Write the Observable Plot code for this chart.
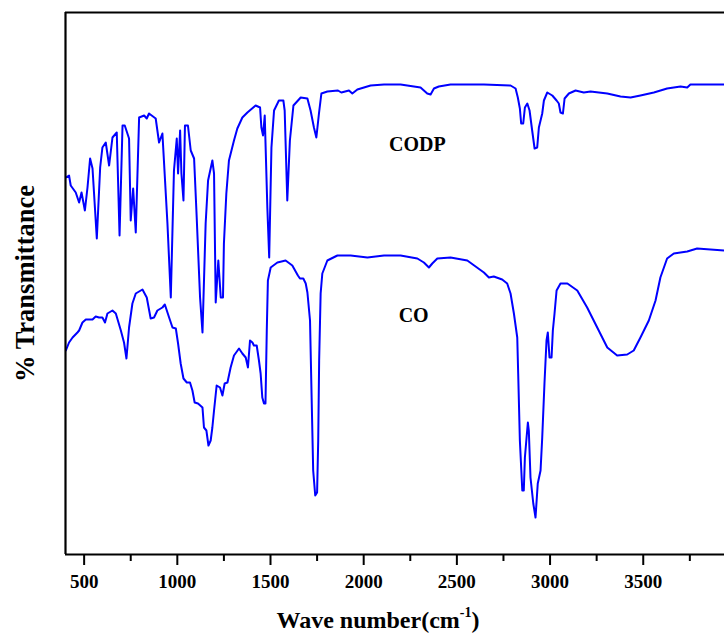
<!DOCTYPE html>
<html>
<head>
<meta charset="utf-8">
<script src="https://cdn.jsdelivr.net/npm/d3@7"></script>
<script src="https://cdn.jsdelivr.net/npm/@observablehq/plot@0.6"></script>
<style>
  html, body { margin: 0; padding: 0; background: #fff; overflow: hidden; }
  #chart svg text { font-weight: bold; font-family: 'Liberation Serif', 'Times New Roman', serif !important; }
</style>
</head>
<body>
<div id="chart"></div>
<script>
// CODP spectrum: wavenumber (cm-1) and transmittance (arbitrary units)
const codpWn = [402,419,428,455,473,486,504,518,532,545,568,586,598,616,634,652,675,690,706,718,741,750,763,777,795,822,836,848,884,902,920,947,965,982,997,1004,1015,1022,1033,1041,1057,1072,1090,1104,1122,1135,1152,1165,1188,1197,1206,1220,1233,1245,1250,1263,1277,1304,1322,1349,1376,1420,1444,1451,1460,1469,1483,1493,1505,1519,1545,1569,1576,1590,1604,1623,1662,1698,1715,1733,1746,1760,1773,1805,1862,1880,1921,1939,1966,2037,2109,2198,2305,2341,2359,2377,2403,2466,2645,2788,2815,2827,2838,2845,2856,2865,2878,2890,2904,2917,2931,2940,2958,2967,2985,3012,3035,3047,3056,3069,3078,3101,3137,3181,3217,3307,3378,3432,3485,3557,3628,3700,3736,3753,3843,3936];
const codpT = [377,379,369,362,352,362,344,367,396,386,316,387,407,412,389,417,422,319,429,429,416,334,366,322,437,439,436,441,436,412,421,331,257,384,416,381,424,381,354,429,429,404,396,337,257,222,331,374,394,381,252,294,257,257,311,361,394,414,426,437,442,449,447,427,419,439,347,297,407,444,454,454,444,354,414,449,457,456,444,427,417,441,461,463,464,462,464,461,465,469,470,470,467,461,460,466,468,470,470,469,466,457,446,431,431,447,451,444,424,406,407,427,441,454,462,459,454,451,442,441,456,461,464,462,463,461,458,457,459,462,466,468,467,470,470,470];

// CO spectrum
const coWn = [402,419,438,464,473,491,509,545,562,580,598,612,625,652,670,697,714,727,741,759,777,813,836,857,875,893,920,933,956,974,992,1004,1018,1033,1051,1068,1081,1093,1111,1135,1143,1156,1167,1179,1188,1197,1211,1229,1242,1254,1269,1286,1304,1331,1349,1367,1379,1390,1403,1411,1426,1438,1447,1456,1465,1473,1480,1486,1501,1537,1581,1617,1647,1658,1676,1689,1698,1712,1721,1729,1740,1750,1756,1761,1769,1778,1805,1859,1930,2020,2109,2198,2288,2323,2350,2368,2395,2466,2556,2645,2672,2698,2743,2770,2788,2806,2824,2829,2838,2851,2859,2865,2874,2881,2886,2895,2910,2922,2934,2949,2958,2970,2981,2988,2997,3008,3015,3024,3035,3056,3093,3146,3199,3253,3307,3360,3414,3449,3485,3530,3566,3592,3628,3664,3736,3789,3936];
const coT = [204,212,217,222,224,232,235,235,238,237,237,232,241,244,241,224,212,196,227,251,261,265,257,236,237,244,247,250,237,227,226,211,191,176,172,172,164,152,151,147,127,124,109,114,127,144,169,167,159,171,172,187,199,206,201,197,187,214,212,209,209,194,181,157,151,151,224,274,287,292,294,289,279,276,276,271,262,234,154,84,59,62,114,194,261,281,294,299,299,297,299,299,296,292,287,291,296,297,294,282,277,278,275,271,261,241,217,181,114,64,64,97,117,132,124,77,51,37,71,84,117,171,214,222,197,197,224,241,264,271,271,264,247,227,207,199,200,204,217,234,254,277,296,301,303,306,304];

const majorTicks = [500,1000,1500,2000,2500,3000,3500];
const minorTicks = [750,1250,1750,2250,2750,3250,3750];
const seriesNames = ["CODP","CO"];
const seriesLabelWn = [2288,2268];
const seriesLabelT = [410,239];
const yTitle = "% Transmittance";

const codp = codpWn.map((w,i) => ({wn: w, t: codpT[i]}));
const co = coWn.map((w,i) => ({wn: w, t: coT[i]}));
const labels = seriesNames.map((n,i) => ({name: n, wn: seriesLabelWn[i], t: seriesLabelT[i]}));

const serif = "'Liberation Serif', 'Times New Roman', serif";

const chart = Plot.plot({
  width: 724,
  height: 639,
  marginLeft: 65,
  marginRight: 0,
  marginTop: 12,
  marginBottom: 85,
  style: "font-family: 'Liberation Serif', 'Times New Roman', serif; background: #fff; color: #000;",
  x: {domain: [400, 3936], label: null},
  y: {domain: [0, 542], axis: null},
  marks: [
    Plot.line(codp, {x: "wn", y: "t", stroke: "#0000ff", strokeWidth: 2, clip: true}),
    Plot.line(co, {x: "wn", y: "t", stroke: "#0000ff", strokeWidth: 2, clip: true}),
    Plot.ruleY([0], {stroke: "#000", strokeWidth: 2.2}),
    Plot.ruleY([542], {stroke: "#000", strokeWidth: 2.2}),
    Plot.ruleX([400], {stroke: "#000", strokeWidth: 2.2}),
    Plot.axisX({ticks: majorTicks, tickSize: 11, tickPadding: 9, fontSize: 19, fontFamily: serif, fontWeight: "bold", label: null, strokeWidth: 2, tickFormat: d => String(d)}),
    Plot.axisX({ticks: minorTicks, tickSize: 7, label: null, strokeWidth: 2, tickFormat: () => ""}),
    Plot.text([yTitle], {frameAnchor: "left", textAnchor: "middle", dx: -40, rotate: -90, fontSize: 26.5, fontFamily: serif, fontWeight: "bold"}),
    Plot.text(labels, {x: "wn", y: "t", text: "name", fontSize: 20, fontFamily: serif, fontWeight: "bold"})
  ]
});

document.getElementById("chart").appendChild(chart);

const svg = d3.select(chart);
// make sure the tick labels use the bold serif face at the reference size
svg.selectAll("g[aria-label='x-axis tick label']")
  .attr("font-size", 19)
  .attr("font-family", serif)
  .attr("font-weight", "bold")
  .style("font-size", "19px");

// X-axis title with superscript
const title = svg.append("text")
  .attr("x", 378)
  .attr("y", 628)
  .attr("text-anchor", "middle")
  .attr("font-size", 24)
  .attr("font-weight", "bold")
  .attr("font-family", serif)
  .attr("fill", "#000");
title.append("tspan").text("Wave number(cm");
title.append("tspan").attr("dy", -11).attr("font-size", 14).text("-1");
title.append("tspan").attr("dy", 11).text(")");
</script>
</body>
</html>
